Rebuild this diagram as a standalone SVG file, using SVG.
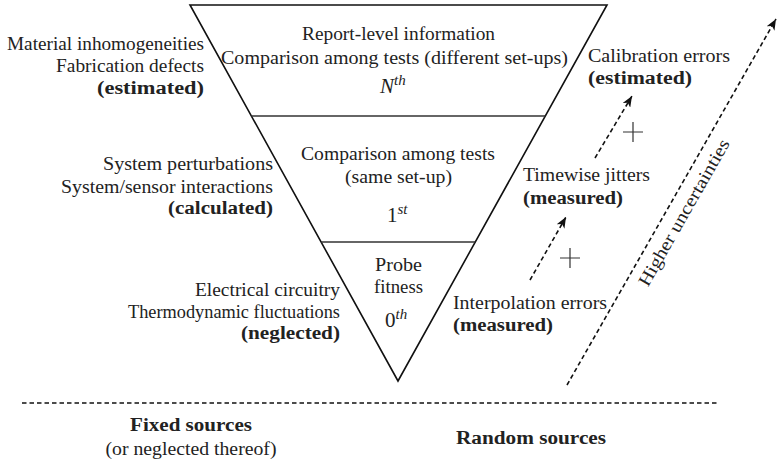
<svg xmlns="http://www.w3.org/2000/svg" width="778" height="461" viewBox="0 0 778 461">
<style>
text{font-family:"Liberation Serif","Times New Roman",serif;font-size:18px;fill:#222;}
.b{font-weight:bold;}
.e{text-anchor:end;}
.m{text-anchor:middle;}
.ord{font-size:21px;}
.it{font-style:italic;}
.sup{font-size:15px;font-style:italic;}
.frame{fill:none;stroke:#111;stroke-width:1.6;stroke-linejoin:miter;}
.sep{stroke:#333;stroke-width:1.6;}
.dash{fill:none;stroke:#111;stroke-width:1.6;stroke-dasharray:4.5 3;}
</style>
<defs>
<marker id="ah" markerWidth="12" markerHeight="9" refX="11" refY="4.5" orient="auto" markerUnits="userSpaceOnUse">
<path d="M0,0 L11,4.5 L0,9 L3,4.5 z" fill="#111"/>
</marker>
</defs>

<g id="pyramid">
<polygon class="frame" points="190,5 607,5 398,381"/>
<line class="sep" x1="251.4" y1="116" x2="545.3" y2="116"/>
<line class="sep" x1="321.1" y1="242" x2="475.3" y2="242"/>
</g>

<g id="level-nth">
<text class="m" x="398.5" y="40" textLength="193" lengthAdjust="spacingAndGlyphs">Report-level information</text>
<text class="m" x="394.5" y="64" textLength="347" lengthAdjust="spacingAndGlyphs">Comparison among tests (different set-ups)</text>
<text class="ord" x="380" y="93"><tspan class="it">N</tspan><tspan class="sup" dy="-8">th</tspan></text>
</g>

<g id="level-1st">
<text class="m" x="398" y="160" textLength="194" lengthAdjust="spacingAndGlyphs">Comparison among tests</text>
<text class="m" x="398.5" y="183" textLength="107" lengthAdjust="spacingAndGlyphs">(same set-up)</text>
<text class="ord" x="387" y="222">1<tspan class="sup" dy="-8">st</tspan></text>
</g>

<g id="level-0th">
<text class="m" x="398.5" y="271" textLength="47" lengthAdjust="spacingAndGlyphs">Probe</text>
<text class="m" x="398.5" y="293" textLength="49" lengthAdjust="spacingAndGlyphs">fitness</text>
<text class="ord" x="385" y="327">0<tspan class="sup" dy="-8">th</tspan></text>
</g>

<g id="fixed-top">
<text class="e" x="204" y="50" textLength="197" lengthAdjust="spacingAndGlyphs">Material inhomogeneities</text>
<text class="e" x="204" y="72" textLength="148" lengthAdjust="spacingAndGlyphs">Fabrication defects</text>
<text class="e b" x="204" y="94" textLength="107" lengthAdjust="spacingAndGlyphs">(estimated)</text>
</g>

<g id="fixed-mid">
<text class="e" x="273" y="170" textLength="170" lengthAdjust="spacingAndGlyphs">System perturbations</text>
<text class="e" x="273" y="193" textLength="212" lengthAdjust="spacingAndGlyphs">System/sensor interactions</text>
<text class="e b" x="273" y="214" textLength="105" lengthAdjust="spacingAndGlyphs">(calculated)</text>
</g>

<g id="fixed-bottom">
<text class="e" x="340" y="296" textLength="145" lengthAdjust="spacingAndGlyphs">Electrical circuitry</text>
<text class="e" x="340" y="318" textLength="212" lengthAdjust="spacingAndGlyphs">Thermodynamic fluctuations</text>
<text class="e b" x="340" y="339" textLength="99" lengthAdjust="spacingAndGlyphs">(neglected)</text>
</g>

<g id="random-top">
<text x="588" y="62" textLength="142" lengthAdjust="spacingAndGlyphs">Calibration errors</text>
<text class="b" x="588" y="84" textLength="104" lengthAdjust="spacingAndGlyphs">(estimated)</text>
</g>

<g id="random-mid">
<text x="523" y="181" textLength="127" lengthAdjust="spacingAndGlyphs">Timewise jitters</text>
<text class="b" x="523" y="204" textLength="100" lengthAdjust="spacingAndGlyphs">(measured)</text>
</g>

<g id="random-bottom">
<text x="453" y="309" textLength="154" lengthAdjust="spacingAndGlyphs">Interpolation errors</text>
<text class="b" x="453" y="331" textLength="100" lengthAdjust="spacingAndGlyphs">(measured)</text>
</g>

<g id="connectors">
<line class="dash" x1="530" y1="280" x2="566" y2="217" marker-end="url(#ah)"/>
<line class="dash" x1="595" y1="158" x2="632" y2="96" marker-end="url(#ah)"/>
<line class="dash" x1="567" y1="385" x2="776" y2="19" marker-end="url(#ah)"/>
<line class="dash" x1="22" y1="403" x2="718" y2="403"/>
<path d="M560,258 H580 M570,248 V268" stroke="#333" stroke-width="1.2" fill="none"/>
<path d="M623,132 H643 M633,122 V142" stroke="#333" stroke-width="1.2" fill="none"/>
</g>

<g id="trend-label">
<text class="m" transform="translate(689,215.5) rotate(-60.3)" x="0" y="0" textLength="166" lengthAdjust="spacingAndGlyphs">Higher uncertainties</text>
</g>

<g id="legend-fixed">
<text class="m b" x="191" y="431" textLength="122" lengthAdjust="spacingAndGlyphs">Fixed sources</text>
<text class="m" x="191" y="455" textLength="171" lengthAdjust="spacingAndGlyphs">(or neglected thereof)</text>
</g>

<g id="legend-random">
<text class="m b" x="531" y="444" textLength="150" lengthAdjust="spacingAndGlyphs">Random sources</text>
</g>
</svg>
